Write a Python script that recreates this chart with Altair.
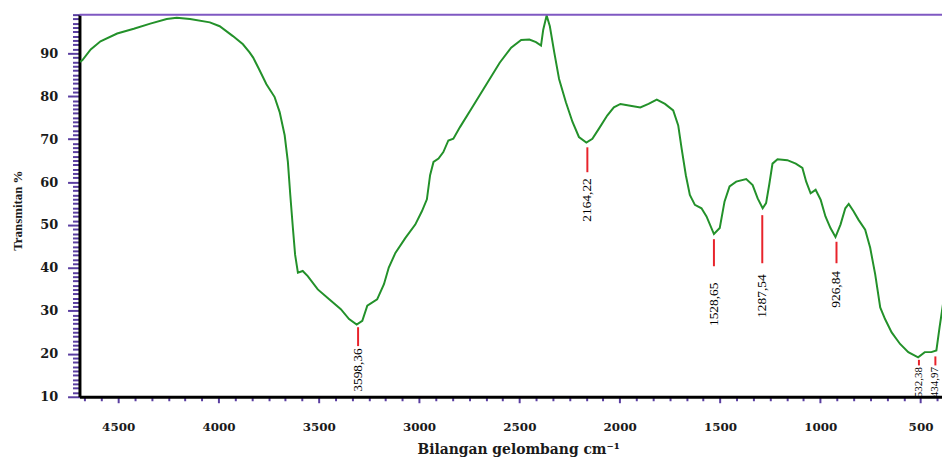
import altair as alt
import pandas as pd

# ---- spectrum ----
wavenumber = [4690, 4678, 4637, 4588, 4505, 4422, 4340, 4258, 4208, 4142, 4043, 3994, 3928, 3878,
              3845, 3827, 3800, 3761, 3720, 3695, 3670, 3654, 3642, 3629, 3618, 3604, 3580, 3555,
              3505, 3448, 3390, 3349, 3311, 3283, 3258, 3209, 3175, 3151, 3118, 3068, 3019, 2986,
              2961, 2945, 2928, 2903, 2879, 2854, 2829, 2796, 2730, 2664, 2598, 2541, 2491, 2450,
              2417, 2392, 2381, 2364, 2348, 2326, 2302, 2268, 2235, 2203, 2166, 2136, 2104, 2062,
              2029, 1996, 1947, 1897, 1856, 1815, 1774, 1733, 1708, 1691, 1670, 1650, 1625, 1592,
              1567, 1530, 1501, 1477, 1452, 1419, 1369, 1337, 1312, 1287, 1270, 1254, 1238, 1213,
              1164, 1122, 1089, 1070, 1048, 1023, 998, 974, 949, 924, 899, 875, 858, 834, 809, 776,
              751, 726, 701, 677, 644, 602, 561, 512, 479, 446, 421, 405, 388]
transmittance = [88.0, 88.4, 90.9, 92.8, 94.6, 95.7, 96.9, 98.0, 98.3, 98.0, 97.2, 96.3, 94.0, 92.1,
                 90.2, 89.0, 86.5, 82.8, 79.8, 76.3, 70.9, 64.7, 57.0, 49.3, 43.1, 38.9, 39.3, 38.1,
                 35.0, 32.7, 30.4, 28.1, 26.8, 27.7, 31.2, 32.7, 36.2, 40.1, 43.5, 47.0, 50.1, 53.2,
                 56.0, 61.6, 64.7, 65.5, 67.0, 69.7, 70.1, 72.8, 77.8, 82.8, 87.8, 91.3, 93.1, 93.2,
                 92.6, 91.8, 95.5, 98.8, 96.3, 90.2, 84.0, 78.6, 74.0, 70.5, 69.2, 70.1, 72.4, 75.5,
                 77.4, 78.2, 77.8, 77.4, 78.2, 79.2, 78.2, 76.7, 73.2, 67.8, 61.6, 57.0, 54.7, 53.9,
                 52.0, 47.9, 49.3, 55.5, 59.0, 60.1, 60.7, 59.3, 56.2, 53.9, 55.1, 59.5, 64.3, 65.3,
                 65.1, 64.3, 63.3, 60.1, 57.4, 58.2, 55.9, 52.0, 49.3, 47.2, 50.1, 53.9, 54.9, 53.2,
                 51.2, 48.9, 44.7, 38.5, 30.8, 28.1, 25.0, 22.3, 20.4, 19.2, 20.4, 20.4, 20.8, 26.2,
                 31.6]

# ---- peak annotations ----
peak_labels = ["3598,36", "2164,22", "1528,65", "1287,54", "926,84", "532,38", "434,97"]
peak_x = [3304, 2161, 1530, 1289, 919, 508, 426]
rule_top = [26.2, 68.1, 46.7, 52.3, 46.1, 18.6, 19.4]
rule_bottom = [21.8, 62.3, 40.4, 41.1, 41.1, 17.3, 17.3]
label_top = [21.3, 60.9, 36.6, 38.5, 39.3, 16.9, 16.9]
label_group = ["big", "big", "big", "big", "big", "small", "small"]

# ---- axes ----
x_major = [4500, 4000, 3500, 3000, 2500, 2000, 1500, 1000, 500]
y_major = [10, 20, 30, 40, 50, 60, 70, 80, 90]
x_domain = [4693, 393]
y_domain = [10, 99]

x_ticks = [round(500 + k * 500 / 6, 2) for k in range(-1, 51)]
y_ticks = list(range(10, 100))

spectrum = pd.DataFrame({"wn": wavenumber, "t": transmittance})
peaks = pd.DataFrame({"label": peak_labels, "wn": peak_x, "t": rule_top,
                      "bottom": rule_bottom, "ty": label_top, "grp": label_group})
frame_top = pd.DataFrame({"t": [y_domain[1]]})

PURPLE = "#5a3ea0"
xscale = alt.Scale(domain=x_domain, nice=False, zero=False)
yscale = alt.Scale(domain=y_domain, nice=False, zero=False)

x_axis = alt.Axis(
    orient="bottom",
    values=x_ticks,
    labelExpr="datum.value % 500 === 0 ? format(datum.value, 'd') : ''",
    tickSize={"condition": {"test": "datum.value % 500 === 0", "value": 6}, "value": 4},
    tickColor=PURPLE, tickWidth=2,
    domainColor="black", domainWidth=3,
    labelFont="DejaVu Serif", labelFontWeight="bold", labelFontSize=12, labelColor="#1a1a1a",
    labelPadding=19, labelOverlap=False, labelFlush=False,
    grid=False,
    title="Bilangan gelombang cm\u207b\u00b9",
    titleFont="DejaVu Serif", titleFontWeight="bold", titleFontSize=14, titleColor="#1a1a1a",
    titleX=442, titleY=46,
)
y_axis = alt.Axis(
    orient="left",
    values=y_ticks,
    labelExpr="datum.value % 10 === 0 ? format(datum.value, 'd') : ''",
    tickSize={"condition": {"test": "datum.value % 10 === 0", "value": 12}, "value": 7},
    tickColor=PURPLE, tickWidth=2,
    domainColor="black", domainWidth=3,
    labelFont="DejaVu Serif", labelFontWeight="bold", labelFontSize=13, labelColor="#1a1a1a",
    labelPadding=10, labelOverlap=False, labelFlush=False,
    grid=False,
    title="Transmitan %",
    titleFont="Liberation Serif", titleFontWeight="bold", titleFontSize=13, titleColor="#1a1a1a",
    titleX=-55, titleY=197,
)

X = alt.X("wn:Q", scale=xscale, axis=x_axis)

line = alt.Chart(spectrum).mark_line(color="#23912a", strokeWidth=2, clip=True).encode(
    x=X,
    y=alt.Y("t:Q", scale=yscale, axis=y_axis),
)

top_border = alt.Chart(frame_top).mark_rule(color="#7f58c2", strokeWidth=2).encode(
    y=alt.Y("t:Q", scale=yscale, axis=y_axis),
)

rules = alt.Chart(peaks).mark_rule(color="#e8232b", strokeWidth=2).encode(
    x=X,
    y=alt.Y("t:Q", scale=yscale, axis=y_axis),
    y2="bottom:Q",
)

big_text = alt.Chart(peaks).transform_filter("datum.grp === 'big'").mark_text(
    angle=270, align="right", baseline="middle", font="Liberation Serif", fontSize=13.5, color="black"
).encode(
    x=X,
    y=alt.Y("ty:Q", scale=yscale, axis=y_axis),
    text="label:N",
)
small_text = alt.Chart(peaks).transform_filter("datum.grp === 'small'").mark_text(
    angle=270, align="right", baseline="middle", font="Liberation Serif", fontSize=11, color="black"
).encode(
    x=X,
    y=alt.Y("ty:Q", scale=yscale, axis=y_axis),
    text="label:N",
)

chart = alt.layer(line, top_border, rules, big_text, small_text).properties(
    width=869, height=385,
    autosize=alt.AutoSizeParams(type="none"),
    padding={"left": 72, "top": 5, "right": 0, "bottom": 60},
    background="white",
).configure_view(stroke=None)

chart.save("out.html", embed_options={"renderer": "svg", "actions": False})
